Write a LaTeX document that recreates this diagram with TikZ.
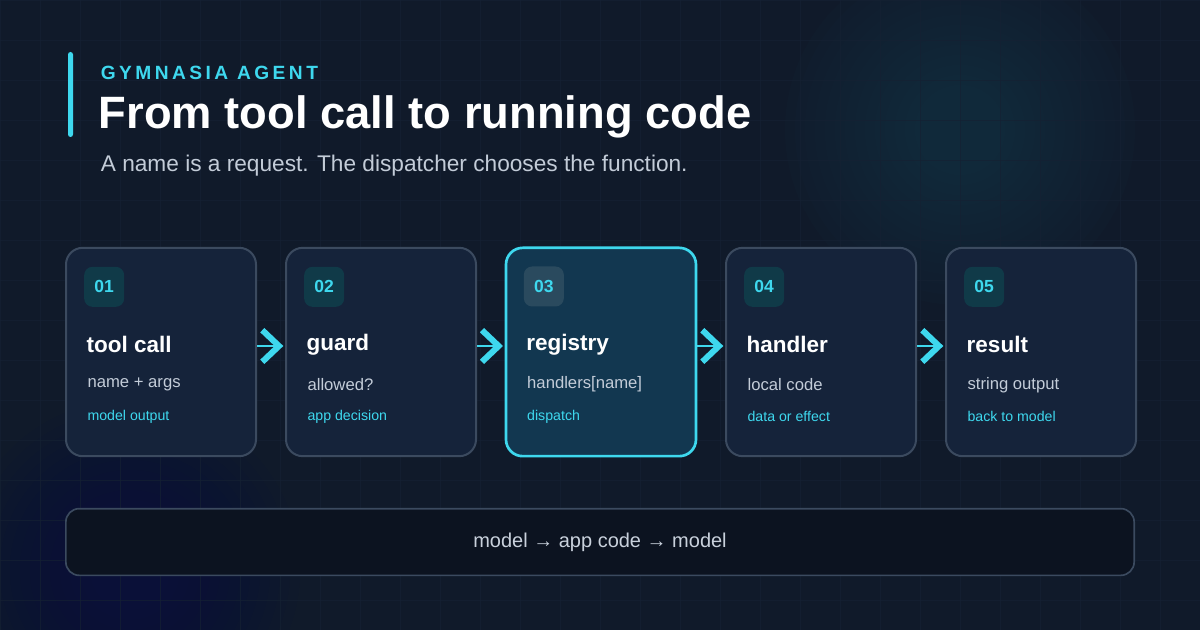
\documentclass[tikz,border=0pt]{standalone}
\usepackage{fontspec}
\setmainfont{Liberation Sans}
\newfontfamily\spaced[LetterSpace=18]{Liberation Sans}
\usetikzlibrary{positioning, arrows.meta}
\definecolor{bgdark}{HTML}{101A2A}
\definecolor{gridln}{HTML}{152133}
\definecolor{boxfill}{HTML}{15233A}
\definecolor{boxline}{HTML}{3B4A5F}
\definecolor{hotfill}{HTML}{123750}
\definecolor{accent}{HTML}{3ED8EE}
\definecolor{badgefill}{HTML}{103A48}
\definecolor{hotbadge}{HTML}{2A4A5E}
\definecolor{softtext}{HTML}{C3CCD8}
\definecolor{barfill}{HTML}{0C1320}
\tikzset{
    stepbox/.style={draw=boxline, line width=1.2pt, fill=boxfill, rounded corners=10pt, minimum width=114pt, minimum height=125pt, inner sep=0pt},
    hotbox/.style={stepbox, draw=accent, fill=hotfill, line width=1.6pt},
    badge/.style={rounded corners=5pt, minimum size=24pt, inner sep=0pt, text=accent, font=\fontsize{10.5}{12}\selectfont\bfseries},
    steptitle/.style={anchor=west, text=white, font=\fontsize{13.5}{16}\selectfont\bfseries},
    stepsub/.style={anchor=west, text=softtext, font=\fontsize{10}{12}\selectfont},
    steptag/.style={anchor=west, text=accent, font=\fontsize{8.5}{10}\selectfont},
    flow/.style={accent, line width=1.2pt, -{Straight Barb[length=10pt, width=19pt, line width=3.6pt]}}
}
\begin{document}
\begin{tikzpicture}[x=0.6pt, y=-0.6pt]
    % background
    \fill[bgdark] (0,0) rectangle (1200,630);
    \useasboundingbox (0,0) rectangle (1200,630);
    \foreach \r in {175,165,...,45}
        \fill[accent!45!bgdark, opacity=0.025] (960,130) circle (\r);
    \foreach \r in {170,160,...,40}
        \fill[blue!40!bgdark, opacity=0.02] (130,570) circle (\r);
    \foreach \gx in {0,40,...,1200} \draw[gridln, opacity=0.7, line width=0.5pt] (\gx,0) -- (\gx,630);
    \foreach \gy in {0,40,...,640} \draw[gridln, opacity=0.7, line width=0.5pt] (0,\gy) -- (1200,\gy);

    % header
    \fill[accent, rounded corners=1.5pt] (68,52) rectangle (73,137);
    \node[anchor=west, text=accent, font=\fontsize{11.5}{14}\selectfont\bfseries\spaced] (kicker) at (95,73) {GYMNASIA AGENT};
    \node[anchor=west, text=white, font=\fontsize{27.2}{32}\selectfont\bfseries] (headline) at (93,117) {From tool call to running code};
    \node[anchor=west, text=softtext, font=\fontsize{13.6}{16}\selectfont] (lede) at (95,166) {A name is a request. The dispatcher chooses the function.};

    % steps
    \node[stepbox] (s1) at (161,352) {};
    \node[stepbox] (s2) at (381,352) {};
    \node[hotbox] (s3) at (601,352) {};
    \node[stepbox] (s4) at (821,352) {};
    \node[stepbox] (s5) at (1041,352) {};

    \foreach \i/\bf/\ttl/\sub/\tag in {1/badgefill/tool call/name + args/model output, 2/badgefill/guard/allowed?/app decision, 3/hotbadge/registry/handlers[name]/dispatch, 4/badgefill/handler/local code/data or effect, 5/badgefill/result/string output/back to model} {
        \node[badge, fill=\bf] (b\i) at ([xshift=23.5pt, yshift=-24pt]s\i.north west) {0\i};
        \node[steptitle] (t\i) at ([xshift=9.5pt, yshift=-58.8pt]s\i.north west) {\ttl};
        \node[stepsub] (u\i) at ([xshift=10pt, yshift=-82.8pt]s\i.north west) {\sub};
        \node[steptag] (g\i) at ([xshift=10pt, yshift=-102pt]s\i.north west) {\tag};
    }

    \foreach \a/\b in {1/2, 2/3, 3/4, 4/5}
        \draw[flow] ([yshift=3.6pt]s\a.east) -- ([xshift=-1pt, yshift=3.6pt]s\b.west);

    % footer
    \node[draw=boxline, line width=1pt, fill=barfill, rounded corners=8pt, minimum width=641pt, minimum height=40pt, text=softtext!90!white, font=\fontsize{12}{14}\selectfont] (strip) at (600,542) {model → app code → model};
\end{tikzpicture}
\end{document}
